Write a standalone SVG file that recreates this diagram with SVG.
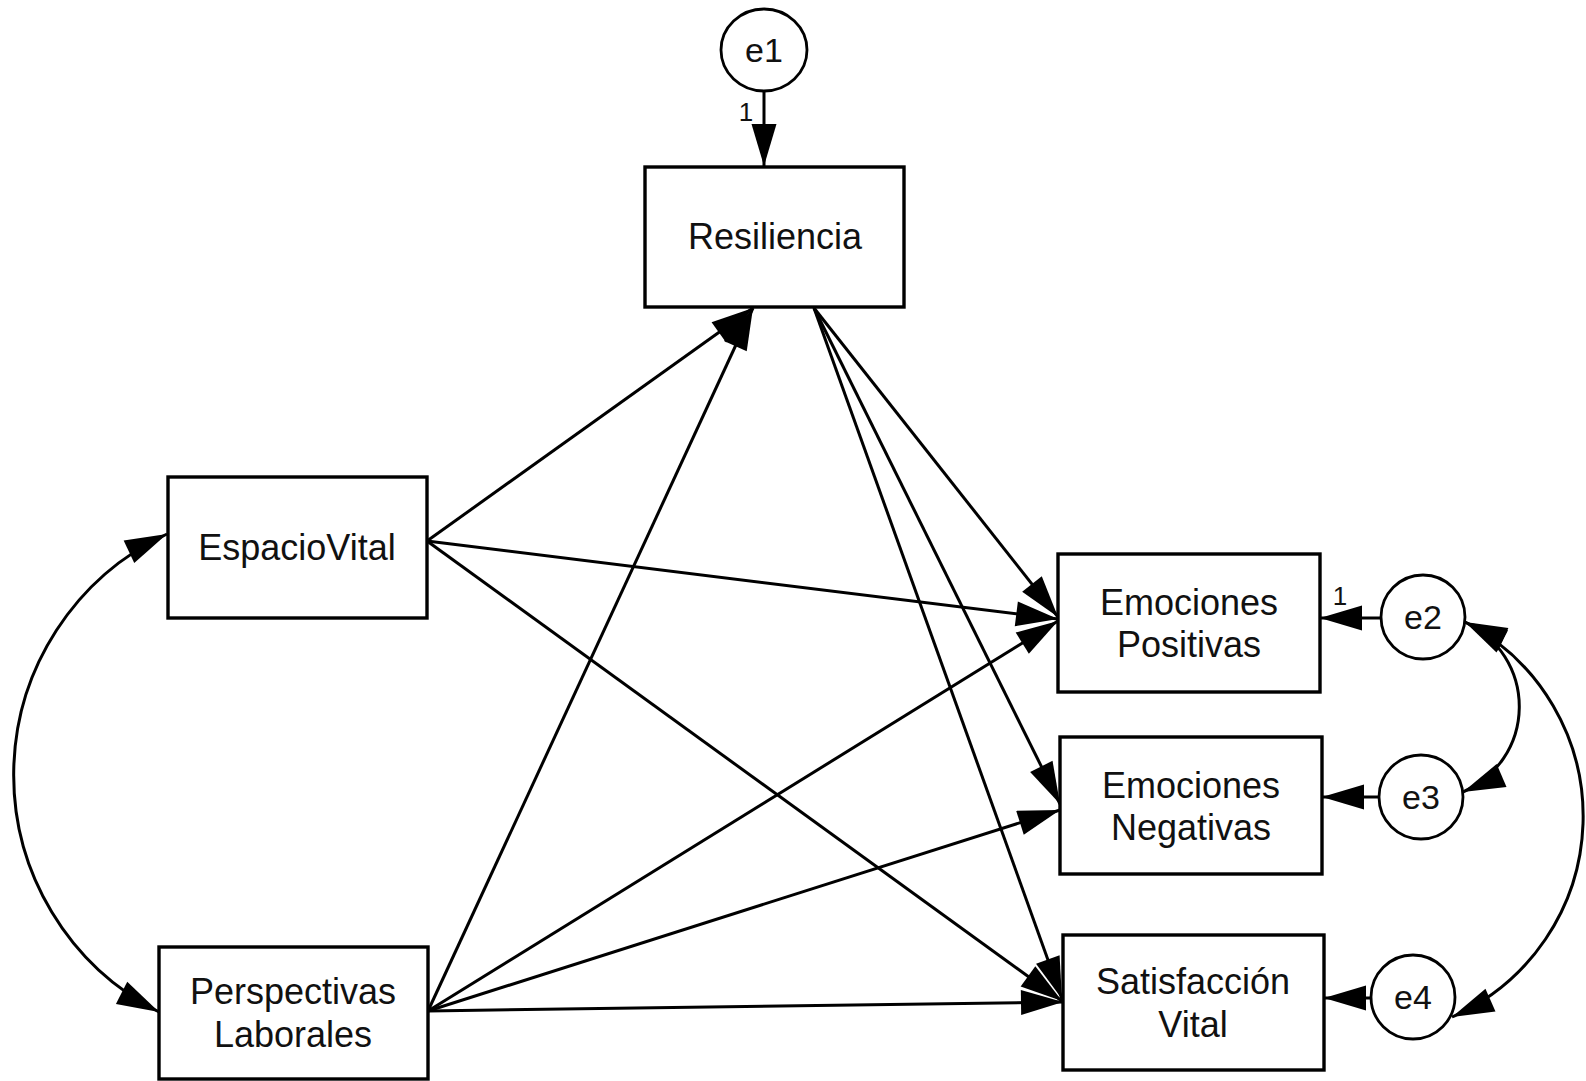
<svg xmlns="http://www.w3.org/2000/svg" width="1586" height="1081" viewBox="0 0 1586 1081">
<style>
.box{fill:#fff;stroke:#000;stroke-width:3.4}
.err{fill:#fff;stroke:#000;stroke-width:2.8}
.lbl{font-family:"Liberation Sans",Arial,sans-serif;font-size:36px;fill:#111;text-anchor:middle}
.elbl{font-family:"Liberation Sans",Arial,sans-serif;font-size:34px;fill:#111;text-anchor:middle}
.one{font-family:"Liberation Sans",Arial,sans-serif;font-size:26px;fill:#111;text-anchor:middle}
.ln{fill:none;stroke:#000;stroke-width:3;marker-end:url(#ah)}
.cv{fill:none;stroke:#000;stroke-width:3;marker-end:url(#ah);marker-start:url(#ahs)}
</style>
<defs>
<marker id="ah" markerUnits="userSpaceOnUse" viewBox="-44 -14 46 28" refX="0" refY="0" markerWidth="46" markerHeight="28" orient="auto">
<path d="M0,0 L-42,-12.5 L-42,12.5 Z" fill="#000"/>
</marker>
<marker id="ahs" markerUnits="userSpaceOnUse" viewBox="-44 -14 46 28" refX="0" refY="0" markerWidth="46" markerHeight="28" orient="auto-start-reverse">
<path d="M0,0 L-42,-12.5 L-42,12.5 Z" fill="#000"/>
</marker>
</defs>
<rect width="1586" height="1081" fill="#fff"/>
<g id="connectors">
<line class="ln" x1="764" y1="92" x2="764" y2="166"/>
<line class="ln" x1="427" y1="541" x2="753" y2="308"/>
<line class="ln" x1="428" y1="1011" x2="753" y2="308"/>
<line class="ln" x1="427" y1="541" x2="1058" y2="619"/>
<line class="ln" x1="427" y1="541" x2="1062" y2="1001"/>
<line class="ln" x1="814" y1="308" x2="1058" y2="617"/>
<line class="ln" x1="814" y1="308" x2="1060" y2="804"/>
<line class="ln" x1="814" y1="308" x2="1062" y2="999"/>
<line class="ln" x1="428" y1="1011" x2="1058" y2="621"/>
<line class="ln" x1="428" y1="1011" x2="1060" y2="810"/>
<line class="ln" x1="428" y1="1011" x2="1063" y2="1002"/>
<line class="ln" x1="1381" y1="618" x2="1320" y2="618"/>
<line class="ln" x1="1379" y1="797" x2="1322" y2="797"/>
<line class="ln" x1="1371" y1="998" x2="1324" y2="998"/>
<path class="cv" d="M 167 534 A 266 266 0 0 0 159 1012"/>
<path class="cv" d="M 1465 622 A 93 93 0 0 1 1463 792"/>
<path class="cv" d="M 1465 622 A 219 219 0 0 1 1452 1017"/>
</g>
<g id="e1">
<ellipse class="err" cx="764" cy="50" rx="43" ry="41"/>
<text class="elbl" x="764" y="62">e1</text>
<text class="one" x="746" y="121">1</text>
</g>
<g id="Resiliencia">
<rect class="box" x="645" y="167" width="259" height="140"/>
<text class="lbl" x="775" y="249">Resiliencia</text>
</g>
<g id="EspacioVital">
<rect class="box" x="168" y="477" width="259" height="141"/>
<text class="lbl" x="297" y="560">EspacioVital</text>
</g>
<g id="PerspectivasLaborales">
<rect class="box" x="159" y="947" width="269" height="132"/>
<text class="lbl" x="293" y="1004">Perspectivas</text>
<text class="lbl" x="293" y="1047">Laborales</text>
</g>
<g id="EmocionesPositivas">
<rect class="box" x="1058" y="554" width="262" height="138"/>
<text class="lbl" x="1189" y="615">Emociones</text>
<text class="lbl" x="1189" y="657">Positivas</text>
</g>
<g id="EmocionesNegativas">
<rect class="box" x="1060" y="737" width="262" height="137"/>
<text class="lbl" x="1191" y="798">Emociones</text>
<text class="lbl" x="1191" y="840">Negativas</text>
</g>
<g id="SatisfaccionVital">
<rect class="box" x="1063" y="935" width="261" height="135"/>
<text class="lbl" x="1193" y="994">Satisfacción</text>
<text class="lbl" x="1193" y="1037">Vital</text>
</g>
<g id="e2">
<circle class="err" cx="1423" cy="617" r="42"/>
<text class="elbl" x="1423" y="629">e2</text>
<text class="one" x="1340" y="605">1</text>
</g>
<g id="e3">
<circle class="err" cx="1421" cy="797" r="42"/>
<text class="elbl" x="1421" y="809">e3</text>
</g>
<g id="e4">
<circle class="err" cx="1413" cy="997" r="42"/>
<text class="elbl" x="1413" y="1009">e4</text>
</g>
</svg>
